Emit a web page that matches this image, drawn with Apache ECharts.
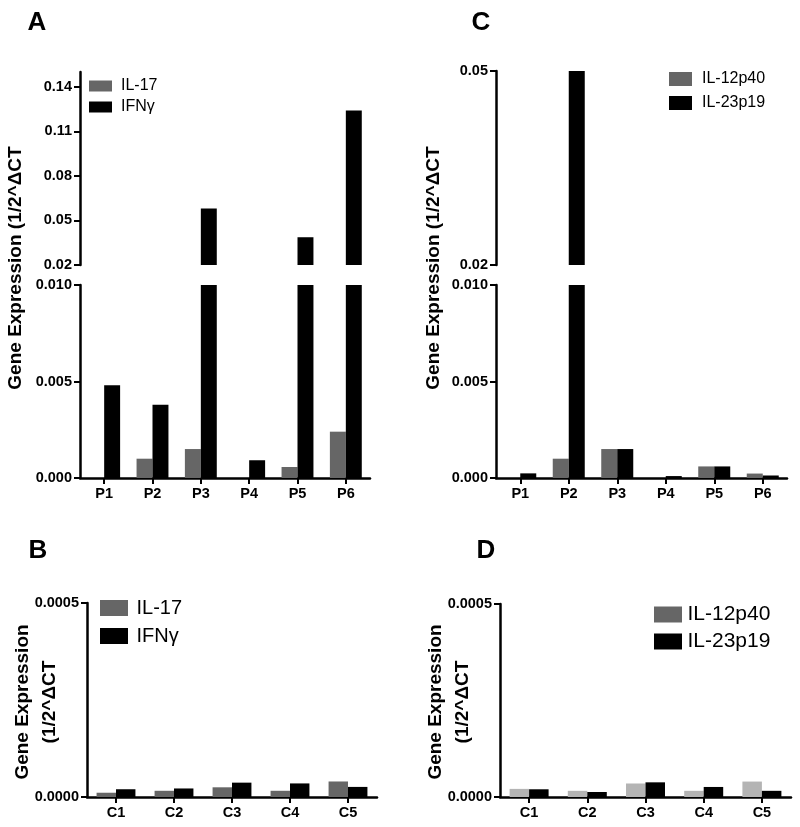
<!DOCTYPE html>
<html>
<head>
<meta charset="utf-8">
<script src="https://cdn.jsdelivr.net/npm/echarts@6/dist/echarts.min.js"></script>
<style>html,body{margin:0;padding:0;background:#fff}#c{width:800px;height:827px}</style>
</head>
<body>
<div id="c"></div>
<script>
// ---- data ----
var catsP = ['P1', 'P2', 'P3', 'P4', 'P5', 'P6'];
var catsC = ['C1', 'C2', 'C3', 'C4', 'C5'];
// Panel A
var il17A = [0, 0.0010, 0.0015, 0, 0.00057, 0.0024];
var ifngA = [0.0048, 0.0038, 0.058, 0.00092, 0.0387, 0.124];
// Panel C
var il12C = [0, 0.0010, 0.0015, 0, 0.0006, 0.00023];
var il23C = [0.00024, 0.050, 0.0015, 0.0001, 0.0006, 0.00013];
// Panel B
var il17B = [0.000011, 0.000016, 0.000025, 0.000016, 0.000040];
var ifngB = [0.000020, 0.000022, 0.000037, 0.000035, 0.000026];
// Panel D
var il12D = [0.000021, 0.000016, 0.000035, 0.000016, 0.000040];
var il23D = [0.000020, 0.000013, 0.000038, 0.000026, 0.000016];
// axis ticks
var ticksAUpper = [0.02, 0.05, 0.08, 0.11, 0.14];
var ticksCUpper = [0.02, 0.05];
var yTitle = 'Gene Expression (1/2^\u0394CT';

var DARK = '#666666', BLACK = '#000000', LIGHT = '#b4b4b4';
var FONT = "'Liberation Sans', Arial, sans-serif";

function above(arr, min) { return arr.map(function (v) { return v > min ? v : null; }); }

var axisLineStyle = { show: true, lineStyle: { color: '#000', width: 2.5 } };
var tickStyle = { show: true, length: 6, lineStyle: { color: '#000', width: 2 } };
var labelStyle = { color: '#000', fontWeight: 'bold', fontSize: 14.5, fontFamily: FONT, margin: 8 };

function xAx(grid, cats, show) {
  return {
    type: 'category', gridIndex: grid, data: cats, show: show,
    axisLine: axisLineStyle, axisTick: Object.assign({ alignWithLabel: true }, tickStyle),
    axisLabel: labelStyle, splitLine: { show: false }
  };
}
function yAx(grid, min, max, interval, dec, custom) {
  var a = {
    type: 'value', gridIndex: grid, min: min, max: max,
    axisLine: axisLineStyle, axisTick: Object.assign({}, tickStyle),
    axisLabel: Object.assign({}, labelStyle, { formatter: function (v) { return v.toFixed(dec); } }),
    splitLine: { show: false }
  };
  if (custom) {
    a.axisTick.customValues = custom;
    a.axisLabel.customValues = custom;
  } else {
    a.interval = interval;
  }
  return a;
}
function bar(name, x, y, data, color, gap) {
  return {
    type: 'bar', name: name, xAxisIndex: x, yAxisIndex: y, data: data,
    itemStyle: { color: color }, barGap: '0%', barCategoryGap: gap, clip: true,
    silent: true, animation: false
  };
}
function legend(names, colors, left, top, iw, ih, fs, gap, pad) {
  return {
    orient: 'vertical', left: left, top: top, padding: 0, itemGap: gap,
    itemWidth: iw, itemHeight: ih, icon: 'rect', selectedMode: false,
    data: names.map(function (n, i) { return { name: n, itemStyle: { color: colors[i] } }; }),
    textStyle: { color: '#000', fontSize: fs, fontFamily: FONT, padding: [0, 0, 0, pad] }
  };
}
function label(txt, x, y) {
  return { type: 'text', x: x, y: y, style: { text: txt, font: 'bold 26px ' + FONT, fill: '#000', align: 'center', verticalAlign: 'middle' } };
}
function ytitle(txt, x, y, lh) {
  return { type: 'text', x: x, y: y, rotation: Math.PI / 2,
    style: { text: txt, font: 'bold 19px ' + FONT, fill: '#000', align: 'center', verticalAlign: 'middle', lineHeight: lh || 22 } };
}

var option = {
  animation: false,
  backgroundColor: '#fff',
  grid: [
    { left: 80, top: 72, width: 290, height: 193 },   // A upper
    { left: 80, top: 285, width: 290, height: 193 },  // A lower
    { left: 496, top: 71, width: 291, height: 194 },  // C upper
    { left: 496, top: 285, width: 291, height: 193 }, // C lower
    { left: 87, top: 603, width: 290, height: 194 },  // B
    { left: 500, top: 604, width: 291, height: 193 }  // D
  ],
  xAxis: [
    xAx(0, catsP, false), xAx(1, catsP, true),
    xAx(2, catsP, false), xAx(3, catsP, true),
    xAx(4, catsC, true), xAx(5, catsC, true)
  ],
  yAxis: [
    yAx(0, 0.02, 0.15, null, 2, ticksAUpper),
    yAx(1, 0, 0.010, 0.005, 3),
    yAx(2, 0.02, 0.05, null, 2, ticksCUpper),
    yAx(3, 0, 0.010, 0.005, 3),
    yAx(4, 0, 0.0005, 0.0005, 4),
    yAx(5, 0, 0.0005, 0.0005, 4)
  ],
  legend: [
    legend(['IL-17', 'IFN\u03b3'], [DARK, BLACK], 89, 78, 23, 11, 16, 5, 4),
    legend(['IL-12p40', 'IL-23p19'], [DARK, BLACK], 669, 71, 23, 14, 16, 8, 5),
    legend(['IL-17', 'IFN\u03b3'], [DARK, BLACK], 100, 598, 28, 16, 20, 8, 3.5),
    legend(['IL-12p40', 'IL-23p19'], [DARK, BLACK], 654, 604, 28, 16, 21, 6, 0.5)
  ],
  series: [
    bar('IL-17', 0, 0, above(il17A, 0.02), DARK, '34%'),
    bar('IFN\u03b3', 0, 0, above(ifngA, 0.02), BLACK, '34%'),
    bar('IL-17', 1, 1, il17A, DARK, '34%'),
    bar('IFN\u03b3', 1, 1, ifngA, BLACK, '34%'),
    bar('IL-12p40', 2, 2, above(il12C, 0.02), DARK, '34%'),
    bar('IL-23p19', 2, 2, above(il23C, 0.02), BLACK, '34%'),
    bar('IL-12p40', 3, 3, il12C, DARK, '34%'),
    bar('IL-23p19', 3, 3, il23C, BLACK, '34%'),
    bar('IL-17', 4, 4, il17B, DARK, '33%'),
    bar('IFN\u03b3', 4, 4, ifngB, BLACK, '33%'),
    bar('IL-12p40', 5, 5, il12D, LIGHT, '33%'),
    bar('IL-23p19', 5, 5, il23D, BLACK, '33%')
  ],
  graphic: [
    label('A', 37, 23), label('C', 481, 23), label('B', 38, 551), label('D', 486, 551),
    ytitle(yTitle, 16, 268), ytitle(yTitle, 434, 268),
    ytitle('Gene Expression\n(1/2^\u0394CT', 36, 702, 27),
    ytitle('Gene Expression\n(1/2^\u0394CT', 449, 702, 27)
  ]
};

var chart = echarts.init(document.getElementById('c'), null, { renderer: 'canvas' });
chart.setOption(option);
</script>
</body>
</html>
